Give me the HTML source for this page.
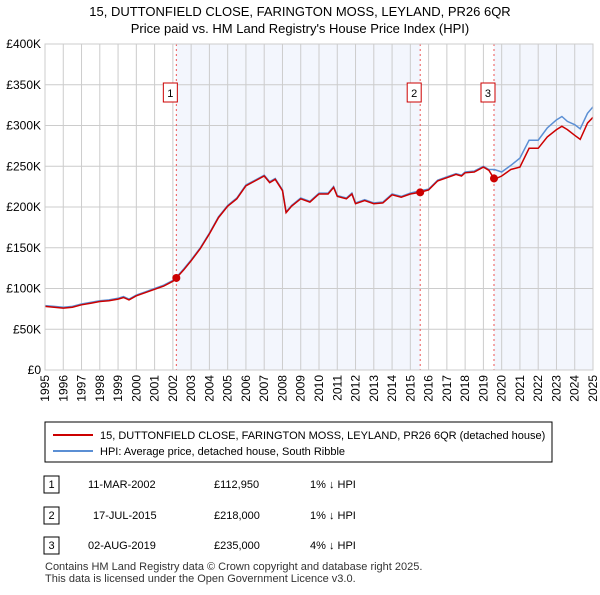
<!DOCTYPE html>
<html><head><meta charset="utf-8">
<style>
body{margin:0;background:#fff;font-family:"Liberation Sans",sans-serif;}
svg text{font-family:"Liberation Sans",sans-serif;}
</style></head>
<body>
<svg id="c" width="600" height="590" xmlns="http://www.w3.org/2000/svg">
<text x="300" y="16" text-anchor="middle" font-size="13" fill="#000">15, DUTTONFIELD CLOSE, FARINGTON MOSS, LEYLAND, PR26 6QR</text>
<text x="300" y="33" text-anchor="middle" font-size="13" fill="#000">Price paid vs. HM Land Registry's House Price Index (HPI)</text>
<g id="plot"></g>
<g>
<rect x="45" y="422" width="507" height="40" fill="#fff" stroke="#000" stroke-width="1"/>
<line x1="53" y1="435" x2="93" y2="435" stroke="#cc0000" stroke-width="2"/>
<text x="100" y="439" font-size="11">15, DUTTONFIELD CLOSE, FARINGTON MOSS, LEYLAND, PR26 6QR (detached house)</text>
<line x1="53" y1="451" x2="93" y2="451" stroke="#5b8fd4" stroke-width="2"/>
<text x="100" y="455" font-size="11">HPI: Average price, detached house, South Ribble</text>
</g>
<g font-size="11">
<rect x="44" y="476" width="15" height="17" fill="#fff" stroke="#000"/><text x="51.5" y="488" text-anchor="middle">1</text>
<text x="88" y="488">11-MAR-2002</text><text x="214" y="488">£112,950</text><text x="310" y="488">1% ↓ HPI</text>
<rect x="44" y="507" width="15" height="17" fill="#fff" stroke="#000"/><text x="51.5" y="519" text-anchor="middle">2</text>
<text x="93" y="519">17-JUL-2015</text><text x="214" y="519">£218,000</text><text x="310" y="519">1% ↓ HPI</text>
<rect x="44" y="537" width="15" height="17" fill="#fff" stroke="#000"/><text x="51.5" y="549" text-anchor="middle">3</text>
<text x="88" y="549">02-AUG-2019</text><text x="214" y="549">£235,000</text><text x="310" y="549">4% ↓ HPI</text>
</g>
<text x="45" y="570" font-size="11" fill="#333">Contains HM Land Registry data © Crown copyright and database right 2025.</text>
<text x="45" y="582" font-size="11" fill="#333">This data is licensed under the Open Government Licence v3.0.</text>
</svg>
<script>
const hpiYears=[1995,1995.5,1996,1996.5,1997,1997.5,1998,1998.5,1999,1999.3,1999.6,2000,2000.5,2001,2001.5,2002,2002.2,2002.6,2003,2003.5,2004,2004.5,2005,2005.5,2006,2006.5,2007,2007.3,2007.6,2008,2008.2,2008.5,2009,2009.5,2010,2010.5,2010.8,2011,2011.5,2011.8,2012,2012.5,2013,2013.5,2014,2014.5,2015,2015.54,2016,2016.5,2017,2017.5,2017.8,2018,2018.5,2019,2019.3,2019.6,2020,2020.5,2021,2021.5,2022,2022.5,2023,2023.3,2023.6,2024,2024.3,2024.7,2025];
const hpiValues=[79,78,77,78,81,83,85,86,88,90,87,92,96,100,104,110,114,124,135,150,168,188,202,211,227,233,239,231,235,221,194,202,211,207,217,217,225,214,211,217,205,209,205,206,216,213,217,220,222,233,237,241,239,243,244,250,246,246,243,251,260,282,282,297,307,311,305,301,296,315,323];
const redValues=[78,77,76,77,80,82,84,85,87,89,86,91,95,99,103,109,113,123,134,149,167,187,201,210,226,232,238,230,234,220,193,201,210,206,216,216,224,213,210,216,204,208,204,205,215,212,216,218,221,232,236,240,238,242,243,249,245,234,238,246,249,272,272,286,295,299,295,288,283,303,310];
const saleYears=[2002.19,2015.54,2019.58];
const saleValues=[112.95,218,235];
const saleLabels=["1","2","3"];
const yTicks=[0,50,100,150,200,250,300,350,400];
const yTickLabels=["£0","£50K","£100K","£150K","£200K","£250K","£300K","£350K","£400K"];
const xTicks=[1995,1996,1997,1998,1999,2000,2001,2002,2003,2004,2005,2006,2007,2008,2009,2010,2011,2012,2013,2014,2015,2016,2017,2018,2019,2020,2021,2022,2023,2024,2025];

const X0=45,X1=593,Y0=370,Y1=44;
const x=v=>X0+(v-1995)/30*(X1-X0);
const y=v=>Y0-v/400*(Y0-Y1);
const NS="http://www.w3.org/2000/svg";
const g=document.getElementById('plot');
function mk(t,a){const e=document.createElementNS(NS,t);for(const k in a)e.setAttribute(k,a[k]);g.appendChild(e);return e;}

const shadeStarts=[saleYears[0],saleYears[2]];
const shadeEnds=[saleYears[1],2025];
for(let i=0;i<shadeStarts.length;i++){
 const r=mk('rect',{x:x(shadeStarts[i]),y:Y1,width:x(shadeEnds[i])-x(shadeStarts[i]),height:Y0-Y1,fill:'#eef2fc',opacity:'0.7'});
 
 
}
yTicks.forEach((t,i)=>{
 const l=mk('line',{x1:X0,x2:X1,y1:y(t),y2:y(t),stroke:'#cccccc','stroke-width':1});
 
 
 const tx=mk('text',{x:X0-4,y:y(t)+4,'text-anchor':'end','font-size':12,fill:'#000'});
 tx.textContent=yTickLabels[i];
 
 
});
xTicks.forEach(t=>{
 const l=mk('line',{x1:x(t),x2:x(t),y1:Y1,y2:Y0,stroke:'#cccccc','stroke-width':1});
 
 
 const px=x(t)+4, py=Y0+5;
 const tx=mk('text',{x:px,y:py,'text-anchor':'end','font-size':12,fill:'#000',transform:`rotate(-90 ${px} ${py})`});
 tx.textContent=String(t);
 
 
});
saleYears.forEach((s,i)=>{
 const l=mk('line',{x1:x(s),x2:x(s),y1:Y1,y2:Y0,stroke:'#ee5555','stroke-width':1,'stroke-dasharray':'2,3'});
 
 
 const b=mk('rect',{x:x(s)-13,y:83,width:14,height:19,fill:'#fff',stroke:'#cc0000','stroke-width':1});
 
 
 const tx=mk('text',{x:x(s)-6,y:97,'text-anchor':'middle','font-size':11});
 tx.textContent=saleLabels[i];
 
 
});
const pts=(xs,vs)=>xs.map((v,i)=>x(v).toFixed(1)+','+y(vs[i]).toFixed(1)).join(' ');
const h=mk('polyline',{points:pts(hpiYears,hpiValues),fill:'none',stroke:'#5b8fd4','stroke-width':1.5});


const r=mk('polyline',{points:pts(hpiYears,redValues),fill:'none',stroke:'#cc0000','stroke-width':1.5});


saleYears.forEach((s,i)=>{
 const c=mk('circle',{cx:x(s),cy:y(saleValues[i]),r:4,fill:'#cc0000'});
 
 
});
const fr=mk('rect',{x:X0,y:Y1,width:X1-X0,height:Y0-Y1,fill:'none',stroke:'#cccccc'});


</script>
</body></html>
